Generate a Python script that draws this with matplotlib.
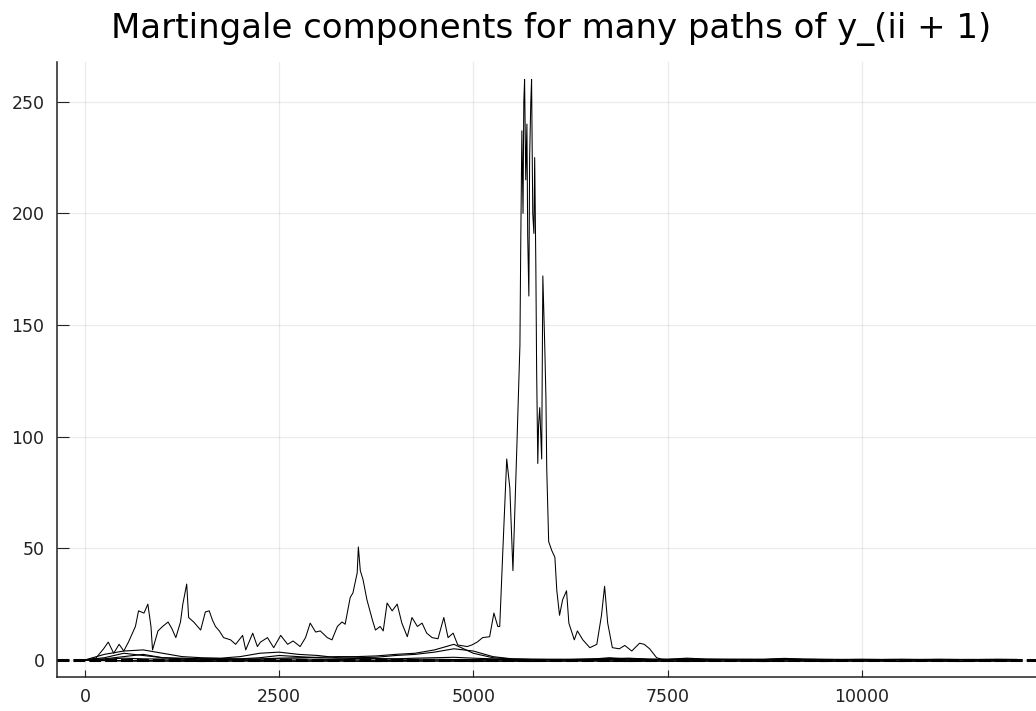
import matplotlib
matplotlib.use("Agg")
import matplotlib.pyplot as plt

# --- data ---
title = "Martingale components for many paths of y_(ii + 1)"

x_ticks = [0, 2500, 5000, 7500, 10000]
y_ticks = [0, 50, 100, 150, 200, 250]

# the one path that blows up (irregular steps, read point by point)
main_x = [0, 140, 240, 300, 370, 440, 500, 560, 650, 690, 760, 810, 850, 870,
          940, 1000, 1070, 1120, 1170, 1230, 1260, 1310, 1335, 1400, 1450, 1490,
          1550, 1600, 1640, 1680, 1730, 1785, 1875, 1940, 2030, 2070, 2160, 2220,
          2260, 2350, 2430, 2520, 2610, 2680, 2770, 2840, 2900, 2970, 3030, 3120,
          3180, 3250, 3310, 3350, 3415, 3450, 3505, 3520, 3545, 3580, 3630, 3700,
          3740, 3800, 3840, 3890, 3955, 4020, 4080, 4150, 4210, 4280, 4340, 4400,
          4470, 4545, 4620, 4675, 4740, 4800, 4920, 4980, 5050, 5120, 5210, 5265,
          5315, 5340, 5380, 5430, 5470, 5510, 5560, 5600, 5610, 5625, 5640, 5650,
          5660, 5675, 5690, 5700, 5715, 5725, 5740, 5750, 5765, 5780, 5790, 5805,
          5815, 5830, 5840, 5855, 5880, 5895, 5920, 5935, 5945, 5970, 6010, 6050,
          6075, 6110, 6150, 6200, 6230, 6300, 6340, 6410, 6500, 6590, 6650, 6690,
          6730, 6790, 6880, 6950, 7040, 7140, 7200, 7270, 7360, 7430, 7600, 8000,
          9000, 10000, 11000, 12000]
main_y = [0, 0.8, 5, 8, 3, 7, 4, 8, 15, 22, 21, 25, 15, 4.5,
          13, 15, 17, 14, 10, 17, 25, 34, 19, 17, 15, 13.4,
          21.5, 22, 18, 15, 13, 10, 9, 7, 11, 4.5, 12, 6,
          8, 10, 5.5, 11, 7, 8.5, 6, 10, 16.5, 12.5, 13, 10,
          9, 15, 17, 16, 28, 30, 39, 50.6, 40, 36, 27, 18,
          13.4, 15, 13, 25.5, 22, 25, 16.5, 10.4, 19, 15, 16.5, 12,
          10, 9.5, 19, 10, 12, 6.7, 6, 6.7, 8, 10, 10.4, 21,
          15, 15, 49, 90, 77, 40, 95, 141, 184, 237, 200, 250,
          260, 215, 240, 190, 163, 225, 250, 260, 200, 191, 225, 176,
          130, 88, 105, 113, 90, 172, 140, 117, 86, 53, 49, 46,
          31, 20, 27, 31, 16.5, 9, 13, 9, 5.5, 7, 20, 33,
          16.5, 5.5, 5, 6.5, 4, 7.5, 7, 5, 1, 0.3, 0.2, 0.3,
          0.2, 0.1, 0.2, 0.1]

# the quieter paths, sampled every 250 steps from 0 to 12000
grid_x = list(range(0, 12001, 250))
path_b = [0, 2.5, 4, 4.5, 3, 1.5, 1, 0.8, 1.5, 3, 3.5, 2.5, 2, 1, 0.6, 0.5,
          0.4, 0.3, 0.3, 0.2, 0.2, 0.2, 0.1, 0.1, 0.1, 0.1, 0.1, 0.1, 0.1, 0.1,
          0.1, 0.1, 0.1, 0.1, 0.1, 0.1, 0.1, 0.1, 0.1, 0.1, 0.1, 0.1, 0.1, 0.1,
          0.1, 0.1, 0.1, 0.1, 0.1]
path_c = [0, 0.5, 1.5, 2.5, 1, 0.5, 0.3, 0.2, 0.3, 0.5, 0.8, 1, 1.2, 1.5, 1.5, 1.8,
          2.5, 3, 4.5, 7, 3, 1, 0.4, 0.3, 0.2, 0.2, 0.3, 1, 0.4, 0.2,
          0.2, 0.3, 0.2, 0.2, 0.2, 0.2, 0.2, 0.2, 0.2, 0.2, 0.2, 0.2, 0.2, 0.2,
          0.2, 0.2, 0.2, 0.2, 0.2]
path_d = [0, 1, 3, 2, 1, 0.8, 0.5, 0.4, 0.5, 1, 2, 1.5, 1, 0.8, 1, 1.2,
          2, 2.5, 3.5, 5, 4, 1.5, 0.5, 0.3, 0.3, 0.2, 0.2, 0.3, 0.6, 0.3,
          0.2, 0.5, 0.2, 0.2, 0.3, 0.2, 0.6, 0.3, 0.2, 0.2, 0.2, 0.2, 0.2, 0.2,
          0.2, 0.2, 0.2, 0.2, 0.2]
path_e = [0, 0.3, 0.8, 0.5, 0.4, 0.3, 0.5, 0.6, 0.4, 0.3, 0.5, 0.4, 0.3, 0.2, 0.4, 0.6,
          0.5, 0.8, 1, 1.2, 0.8, 0.5, 0.3, 0.2, 0.2, 0.3, 0.5, 0.6, 0.8, 0.4,
          0.3, 0.8, 0.4, 0.3, 0.2, 0.3, 0.7, 0.4, 0.3, 0.2, 0.3, 0.2, 0.3, 0.2,
          0.3, 0.2, 0.2, 0.3, 0.2]
path_f = [0, -0.3, -0.5, -0.6, -0.5, -0.6, -0.7, -0.6, -0.5, -0.6, -0.7, -0.6, -0.6,
          -0.5, -0.6, -0.7, -0.6, -0.6, -0.5, -0.6, -0.7, -0.6, -0.6, -0.7, -0.6,
          -0.6, -0.5, -0.6, -0.7, -0.6, -0.6, -0.7, -0.6, -0.6, -0.6, -0.7, -0.6,
          -0.6, -0.7, -0.6, -0.6, -0.6, -0.7, -0.6, -0.6, -0.7, -0.6, -0.6, -0.6]
path_g = [0, -0.2, -0.3, -0.2, -0.4, -0.3, -0.2, -0.4, -0.3, -0.3, -0.2, -0.4, -0.3,
          -0.3, -0.4, -0.3, -0.2, -0.3, -0.4, -0.3, -0.3, -0.4, -0.3, -0.3, -0.4,
          -0.3, -0.3, -0.4, -0.3, -0.3, -0.4, -0.3, -0.3, -0.4, -0.3, -0.3, -0.4,
          -0.3, -0.3, -0.4, -0.3, -0.3, -0.4, -0.3, -0.3, -0.4, -0.3, -0.3, -0.4]
quiet_paths = [path_b, path_c, path_d, path_e, path_f, path_g]

# --- figure ---
fig = plt.figure(figsize=(10.36, 7.11), dpi=100)
ax = fig.add_axes([0.055, 0.0473, 0.9537, 0.8655])

ax.axhline(0.2, color="black", lw=2.2, ls=(0, (3.9, 1.3)), zorder=4)
for p in quiet_paths:
    ax.plot(grid_x, p, color="black", lw=0.8, zorder=2)
ax.plot(main_x, main_y, color="black", lw=0.75, zorder=3)

ax.set_xlim(-360, 12360)
ax.set_ylim(-7.8, 267.8)
ax.set_xticks(x_ticks)
ax.set_yticks(y_ticks)
ax.grid(True, color="black", alpha=0.08, lw=0.9)
ax.set_axisbelow(True)
for s in ("top", "right"):
    ax.spines[s].set_visible(False)
for s in ("left", "bottom"):
    ax.spines[s].set_linewidth(1.1)
    ax.spines[s].set_color("#222222")
ax.tick_params(axis="both", direction="in", labelsize=12.5, colors="#222222")
ax.tick_params(axis="y", length=8.5, pad=9)
ax.tick_params(axis="x", length=5, pad=8)

fig.text(0.532, 1 - 29 / 711, title, ha="center", va="center", fontsize=24.5)

fig.savefig("out.png", dpi=100)
